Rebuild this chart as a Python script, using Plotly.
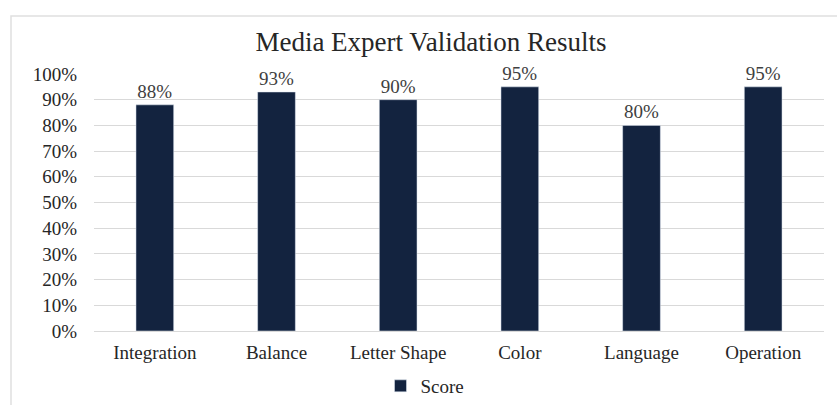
import plotly.graph_objects as go

categories = ["Integration", "Balance", "Letter Shape", "Color", "Language", "Operation"]
scores = [0.88, 0.93, 0.90, 0.95, 0.80, 0.95]
labels = ["88%", "93%", "90%", "95%", "80%", "95%"]
y_ticks = [0, 0.1, 0.2, 0.3, 0.4, 0.5, 0.6, 0.7, 0.8, 0.9, 1.0]
y_tick_labels = ["0%", "10%", "20%", "30%", "40%", "50%", "60%", "70%", "80%", "90%", "100%"]

FONT = "Liberation Serif, Times New Roman, serif"

fig = go.Figure()
fig.add_trace(go.Bar(
    x=categories, y=scores, name="Score",
    marker=dict(color="#13233F"),
    text=labels, textposition="outside", cliponaxis=False,
    textfont=dict(family=FONT, size=19, color="#404040"),
    width=0.31,
))

fig.update_layout(
    width=837, height=405,
    margin=dict(l=94, r=13, t=74, b=74),
    paper_bgcolor="white", plot_bgcolor="white",
    font=dict(family=FONT, color="#262626"),
    title=dict(text="Media Expert Validation Results", x=431/837, xanchor="center",
               y=1 - 42/405, yanchor="middle",
               font=dict(family=FONT, size=27, color="#262626")),
    showlegend=True,
    legend=dict(orientation="h", x=(425 - 94)/730, xanchor="center",
                yref="container", y=(405 - 386)/405, yanchor="middle",
                font=dict(family=FONT, size=19, color="#262626")),
    bargap=0.69,
    shapes=[dict(type="rect", xref="paper", yref="paper",
                 x0=-83/730, x1=1.05, y0=-0.6, y1=1 + 58/257,
                 line=dict(color="#E0E0E0", width=1.5), fillcolor="rgba(0,0,0,0)", layer="below")],
)
fig.update_yaxes(range=[0, 1.0], tickvals=y_ticks, ticktext=y_tick_labels,
                 showgrid=True, gridcolor="#D9D9D9", gridwidth=1, zeroline=False,
                 showline=False, ticks="", ticklabelstandoff=16, automargin=False,
                 tickfont=dict(family=FONT, size=19, color="#262626"))
fig.update_xaxes(showline=True, linecolor="#D9D9D9", linewidth=1, ticks="",
                 ticklabelstandoff=4, automargin=False,
                 tickfont=dict(family=FONT, size=19, color="#262626"))

fig.write_html("out.html")
